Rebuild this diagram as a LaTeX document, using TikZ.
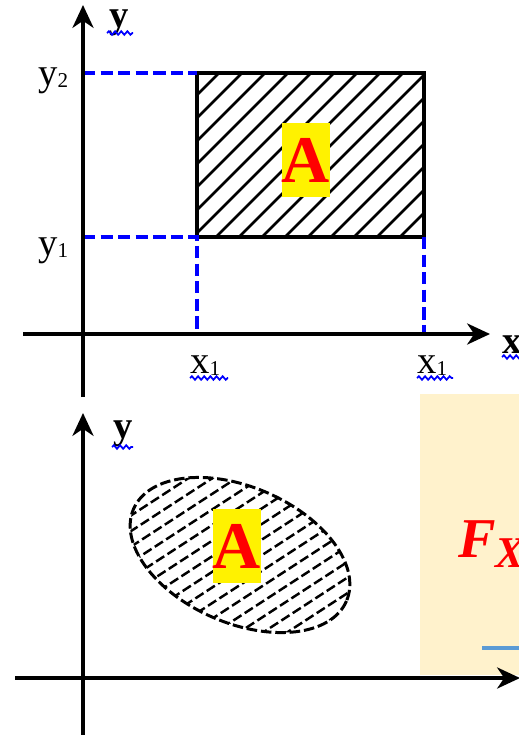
\documentclass[tikz,border=0pt]{standalone}
\usepackage{fontspec}
\setmainfont{Liberation Serif}
\usetikzlibrary{arrows.meta, decorations.pathmorphing}
\definecolor{beige}{HTML}{FFF2CC}
\definecolor{steel}{HTML}{5B9BD5}

\begin{document}
\begin{tikzpicture}[x=0.02cm, y=-0.02cm,
  axis/.style={line width=2pt, -{Stealth[length=13pt, width=12pt, inset=4pt]}},
  guide/.style={blue, line width=1.9pt, dash pattern=on 7pt off 3pt},
  wavy/.style={blue, line width=1pt, decorate, decoration={snake, amplitude=1pt, segment length=3.5pt}},
  lbl/.style={font=\fontsize{22}{24}\selectfont, inner sep=0pt, anchor=base west},
  tagA/.style={fill=yellow, text=red, font=\bfseries\fontsize{38}{40}\selectfont,
    minimum width=0.98cm, minimum height=1.48cm, inner sep=0pt}]
  \clip (0,0) rectangle (519,735);
  % 上图：矩形区域
  \coordinate (P) at (197,237);
  \coordinate (Q) at (424,73);
  \begin{scope}
    \clip (P) rectangle (Q);
    \foreach \s in {-165,-142,...,230}
      \draw[line width=1.5pt] (197+\s,237) -- ++(180,-180);
  \end{scope}
  \draw[line width=2pt] (P) rectangle (Q);
  \draw[guide] (83,73) -- (Q -| P);
  \draw[guide] (83,237) -- (P) -- (197,334);
  \draw[guide] (P -| Q) -- (424,334);
  \draw[axis] (23,334) -- (490,334);
  \draw[axis] (83,397) -- (83,5);
  \node[tagA] (A1) at (306,160) {A};
  \node[lbl] (ytwo) at (38,85) {y\raisebox{-1.5pt}{\fontsize{12}{12}\selectfont 2}};
  \node[lbl] (yone) at (38,255) {y\raisebox{-1.5pt}{\fontsize{12}{12}\selectfont 1}};
  \node[lbl] (xa) at (190,373) {x\raisebox{-1.5pt}{\fontsize{12}{12}\selectfont 1}};
  \node[lbl] (xb) at (417,373) {x\raisebox{-1.5pt}{\fontsize{12}{12}\selectfont 1}};
  \node[lbl, font=\bfseries\fontsize{22}{24}\selectfont] (xtop) at (502,353) {x};
  \node[lbl, font=\bfseries\fontsize{22}{24}\selectfont] (ytop) at (109,27) {y};
  \draw[wavy] (107,33) -- (133,33);
  \draw[wavy] (190,378) -- (228,378);
  \draw[wavy] (417,378) -- (453,378);
  \draw[wavy] (502,357) -- (522,357);
  % 下图：椭圆区域
  \fill[beige] (420,394) rectangle (525,675);
  \node[anchor=base west, inner sep=0pt, text=red,
    font=\bfseries\itshape\fontsize{32}{34}\selectfont] (FX) at (458,557)
    {F\raisebox{-6pt}{\fontsize{25}{25}\selectfont X}};
  \draw[steel, line width=2.8pt] (482,648) -- (525,648);
  \begin{scope}
    \clip[rotate around={-23.4:(240,555)}] (240,555) ellipse [x radius=116, y radius=68];
    \foreach \s in {-100,-76,...,400}
      \draw[line width=1.4pt, dash pattern=on 5.5pt off 2.2pt] (\s,650) -- ++(300,-195);
  \end{scope}
  \draw[line width=1.7pt, dash pattern=on 6pt off 2.2pt, rotate around={-23.4:(240,555)}]
    (240,555) ellipse [x radius=116, y radius=68];
  \node[tagA] (A2) at (237,546) {A};
  \draw[axis] (15,678) -- (520,678);
  \draw[axis] (83,740) -- (83,413);
  \node[lbl, font=\bfseries\fontsize{22}{24}\selectfont] (ybot) at (113,438) {y};
  \draw[wavy] (112,447) -- (133,447);
\end{tikzpicture}
\end{document}
